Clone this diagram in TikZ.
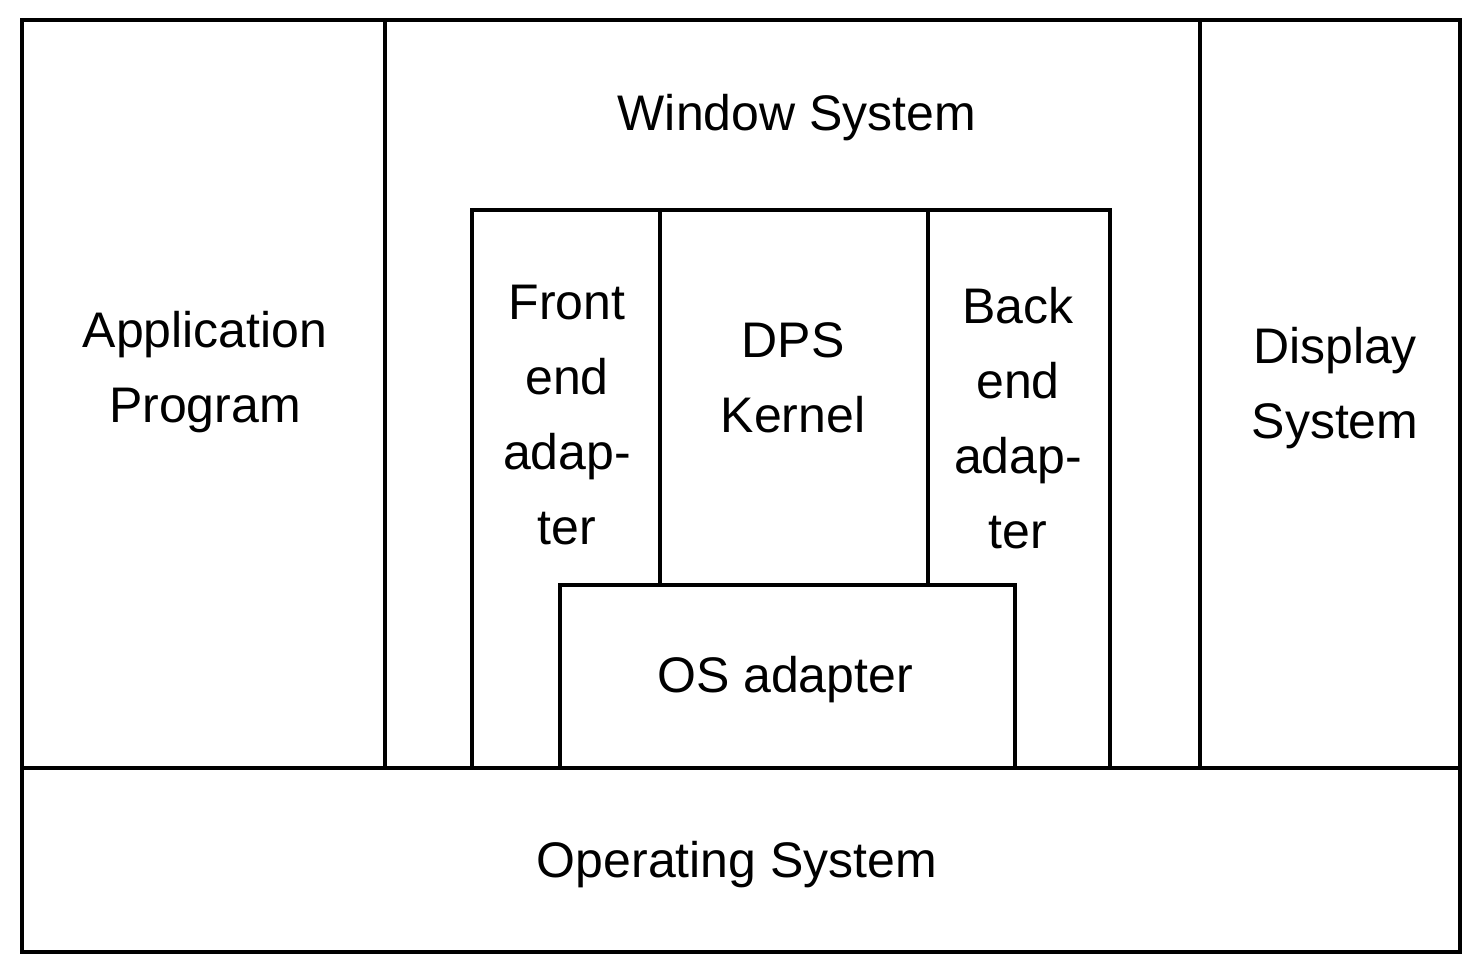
\documentclass[tikz,border=0pt]{standalone}
\usepackage{fontspec}
\setmainfont{Liberation Sans}
\begin{document}
\begin{tikzpicture}[x=0.5pt,y=-0.5pt, line width=2pt,
  lbl/.style={font=\fontsize{25}{37.5}\selectfont, align=center, inner sep=0pt}]
\useasboundingbox (0,0) rectangle (1468,965);
% outer frame and main divisions
\draw (22,20) rectangle (1460,952);
\draw (22,768) -- (1460,768);
\draw (385,20) -- (385,768);
\draw (1200,20) -- (1200,768);
% DPS box
\draw (472,768) -- (472,210) -- (1110,210) -- (1110,768);
\draw (660,210) -- (660,585);
\draw (928,210) -- (928,585);
% OS adapter
\draw (560,768) -- (560,585) -- (1015,585) -- (1015,768);
% labels
\node[lbl] (win) at (797,118) {Window System};
\node[lbl] (app) at (205,372) {Application\\Program};
\node[lbl] (disp) at (1335,388) {Display\\System};
\node[lbl] (front) at (567,415) {Front\\end\\adap-\\ter};
\node[lbl] (dps) at (793,378) {DPS\\Kernel};
\node[lbl] (back) at (1018,418) {Back\\end\\adap-\\ter};
\node[lbl] (osad) at (785,680) {OS adapter};
\node[lbl] (os) at (737,865) {Operating System};
\end{tikzpicture}
\end{document}
